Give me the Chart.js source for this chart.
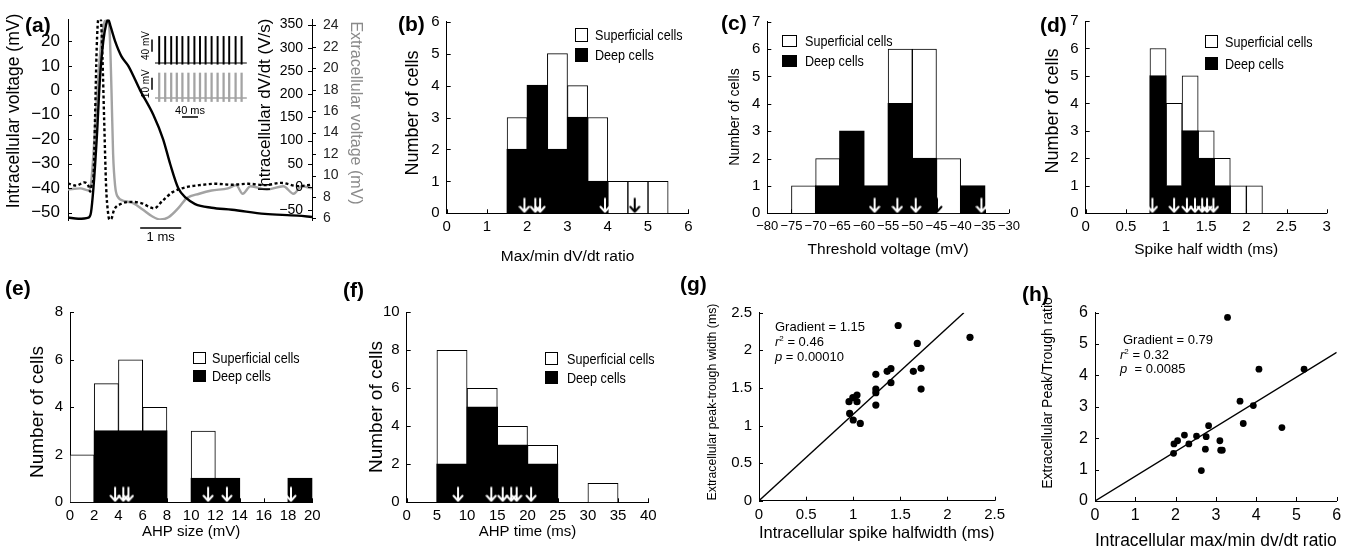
<!DOCTYPE html>
<html>
<head>
<meta charset="utf-8">
<title>Spike shape figure</title>
<script src="https://cdn.jsdelivr.net/npm/chart.js@4.4.1/dist/chart.umd.min.js"></script>
<style>
  body { margin: 0; background: #fff; }
  #fig { position: relative; width: 1349px; height: 550px; overflow: hidden; font-family: 'Liberation Sans', Arial, sans-serif; color: #000; }
  #fig canvas { position: absolute; }
  .lab { position: absolute; font-weight: bold; font-size: 21px; line-height: 23px; }
  .sw { position: absolute; box-sizing: border-box; border: 1px solid #000; }
  .leg { position: absolute; font-size: 14px; line-height: 14px; white-space: nowrap; transform: scaleX(0.9); transform-origin: 0 50%; }
  .ann { position: absolute; font-size: 13px; line-height: 14px; white-space: nowrap; }
  .ann .sup { font-size: 8px; position: relative; top: -5px; }
</style>
</head>
<body>
<div id="fig"></div>
<script>
// ---- (a) spike waveform, time in ms ----
const tIntra = [0, 0.25, 0.5, 0.56, 0.62, 0.7, 0.78, 0.86, 0.93, 0.98, 1.04, 1.15, 1.3, 1.47, 1.76, 2.08, 2.32, 2.49, 2.69, 2.88, 3.1, 3.5, 4.0, 4.8, 5.6, 5.95];
const vIntra = [-52, -52.5, -52, -50, -40, -20, 5, 20, 27, 29, 26, 20, 14, 10, 0, -10, -20, -30, -40, -44, -46.5, -48, -48.8, -50.5, -51.2, -51.8];
const tDvdt = [0, 0.2, 0.4, 0.5, 0.54, 0.58, 0.62, 0.66, 0.7, 0.74, 0.8, 0.84, 0.88, 0.93, 0.97, 1.01, 1.06, 1.12, 1.3, 1.55, 1.8, 2.1, 2.3, 2.55, 2.9, 3.2, 3.6, 4.0, 4.4, 4.8, 5.2, 5.6, 5.95];
const vDvdt = [8, 3, 10, 2, -10, 5, 20, 150, 300, 361, 361, 280, 150, 0, -50, -70, -68, -50, -36, -32, -35, -46, -30, -11, 0, 4, 7, 5, 7, 4, 9, 2, 5];
const tExtra = [0, 0.3, 0.5, 0.56, 0.62, 0.7, 0.8, 0.9, 0.97, 1.02, 1.06, 1.1, 1.15, 1.2, 1.4, 1.6, 1.83, 2.05, 2.25, 2.45, 2.7, 2.9, 3.2, 3.5, 3.9, 4.1, 4.26, 4.45, 4.85, 5.25, 5.5, 5.7, 5.95];
const vExtra = [8.7, 8.8, 8.6, 9.2, 12, 17, 22, 24.4, 24.5, 23, 18, 12, 9, 8.1, 7.6, 7.4, 6.8, 6.2, 5.9, 6.1, 7.0, 7.9, 8.3, 8.6, 8.8, 9.1, 8.3, 9.0, 8.7, 9.0, 8.3, 9.0, 8.8];
const voltTicks = [-50, -40, -30, -20, -10, 0, 10, 20];
const dvdtTicks = [-50, 0, 50, 100, 150, 200, 250, 300, 350];
const extraTicks = [6, 8, 10, 12, 14, 16, 18, 20, 22, 24];
const msBar = [1.76, 2.76];

// inset spike trains (ms)
const spikeTimes = [18, 33, 48, 62, 76, 91, 106, 120, 134, 149, 164, 179, 193, 209, 224];
const trainSpan = [7.5, 237];

// ---- (b) max/min dV/dt ratio ----
const ratioBins = [1.75, 2.25, 2.75, 3.25, 3.75, 4.25, 4.75, 5.25];
const ratioDeep = [2, 4, 2, 3, 1, 0, 0, 0];
const ratioSup = [1, 0, 3, 1, 2, 1, 1, 1];
const ratioArrowsW = [1.93, 2.2, 2.32, 3.93];
const ratioArrowsB = [4.67];
const ratioTicks = [0, 1, 2, 3, 4, 5, 6];

// ---- (c) threshold voltage ----
const thrBins = [-72.5, -67.5, -62.5, -57.5, -52.5, -47.5, -42.5, -37.5];
const thrDeep = [0, 1, 3, 1, 4, 2, 0, 1];
const thrSup = [1, 1, 0, 0, 2, 4, 2, 0];
const thrArrowsW = [-57.8, -53.1, -49.3, -35.7];
const thrArrowsB = [-44.9];
const thrTicks = [-80, -75, -70, -65, -60, -55, -50, -45, -40, -35, -30];

// ---- (d) spike half width ----
const halfBins = [0.9, 1.1, 1.3, 1.5, 1.7, 1.9, 2.1];
const halfDeep = [5, 1, 3, 2, 1, 0, 0];
const halfSup = [1, 3, 2, 1, 1, 1, 1];
const halfArrowsW = [0.83, 1.1, 1.26, 1.36, 1.45, 1.51, 1.59];
const halfTicks = [0, 0.5, 1, 1.5, 2, 2.5, 3];

// ---- (e) AHP size ----
const sizeBins = [1, 3, 5, 7, 9, 11, 13, 15, 17, 19];
const sizeDeep = [0, 3, 3, 3, 0, 1, 1, 0, 0, 1];
const sizeSup = [2, 2, 3, 1, 0, 2, 0, 0, 0, 0];
const sizeArrowsW = [3.72, 4.4, 4.82, 11.4, 12.95, 18.24];
const sizeTicks = [0, 2, 4, 6, 8, 10, 12, 14, 16, 18, 20];

// ---- (f) AHP time ----
const timeBins = [7.5, 12.5, 17.5, 22.5, 27.5, 32.5];
const timeDeep = [2, 5, 3, 2, 0, 0];
const timeSup = [6, 1, 1, 1, 0, 1];
const timeArrowsW = [8.5, 14.0, 15.9, 17.3, 18.2, 20.6];
const timeTicks = [0, 5, 10, 15, 20, 25, 30, 35, 40];

const count6 = [0, 1, 2, 3, 4, 5, 6];
const count7 = [0, 1, 2, 3, 4, 5, 6, 7];
const count8 = [0, 2, 4, 6, 8];
const count10 = [0, 2, 4, 6, 8, 10];

// ---- (g) half width vs peak-trough ----
const gHalf = [0.955, 0.996, 1.04, 1.04, 0.962, 1.0, 1.075, 1.24, 1.24, 1.24, 1.24, 1.36, 1.40, 1.40, 1.477, 1.638, 1.68, 1.72, 1.72, 2.239];
const gPeakTrough = [1.317, 1.37, 1.405, 1.317, 1.161, 1.073, 1.028, 1.68, 1.485, 1.436, 1.272, 1.72, 1.755, 1.569, 2.33, 1.72, 2.092, 1.76, 1.485, 2.172];
const gTicks = [0, 0.5, 1, 1.5, 2, 2.5];
const gGradient = 1.15;

// ---- (h) max/min ratio vs peak/trough ratio ----
const hRatio = [1.95, 1.96, 2.05, 2.22, 2.33, 2.52, 2.76, 2.82, 2.74, 2.64, 3.10, 3.12, 3.16, 3.29, 3.60, 3.68, 3.93, 4.07, 4.64, 5.19];
const hPeakTrough = [1.52, 1.82, 1.92, 2.10, 1.82, 2.07, 2.05, 2.40, 1.65, 0.97, 1.92, 1.62, 1.62, 5.85, 3.18, 2.47, 3.04, 4.20, 2.34, 4.20];
const hTicks = [0, 1, 2, 3, 4, 5, 6];
const hGradient = 0.79;

const FONT = "'Liberation Sans', Arial, Helvetica, sans-serif";
Chart.defaults.font.family = FONT;
Chart.defaults.color = '#000';
Chart.defaults.animation = false;
Chart.defaults.responsive = false;
Chart.defaults.devicePixelRatio = 1;
Chart.defaults.events = [];
Chart.defaults.plugins.legend.display = false;
Chart.defaults.plugins.tooltip.enabled = false;

const fig = document.getElementById('fig');
function makeCanvas(box) {
  const c = document.createElement('canvas');
  c.width = box[2]; c.height = box[3];
  c.style.left = box[0] + 'px'; c.style.top = box[1] + 'px';
  c.style.width = box[2] + 'px'; c.style.height = box[3] + 'px';
  fig.appendChild(c);
  return c;
}
const minus = v => String(v).replace('-', '\u2212');
const pairs = (xs, ys) => xs.map((x, i) => ({x, y: ys[i]}));
const tickList = arr => s => { s.ticks = arr.map(v => ({value: v})); };

function arrowImg(color) {
  const c = document.createElement('canvas');
  c.width = 12; c.height = 16;
  const g = c.getContext('2d');
  g.strokeStyle = color; g.lineWidth = 2; g.lineCap = 'round'; g.lineJoin = 'round';
  g.beginPath();
  g.moveTo(6, 1.5); g.lineTo(6, 14);
  g.moveTo(1.5, 9.5); g.lineTo(6, 14.5); g.lineTo(10.5, 9.5);
  g.stroke();
  return c;
}
const whiteArrow = arrowImg('#fff');
const blackArrow = arrowImg('#000');

// small inward ticks, matlab style
const inTicks = {
  id: 'inTicks',
  beforeDatasetsDraw(chart) {
    const {ctx, chartArea: a} = chart;
    ctx.save();
    ctx.strokeStyle = '#000'; ctx.lineWidth = 1;
    ctx.beginPath();
    ['x', 'y'].forEach(id => {
      const s = chart.scales[id];
      if (!s) return;
      s.ticks.forEach(t => {
        const p = Math.round(s.getPixelForValue(t.value)) + 0.5;
        if (s.isHorizontal()) { ctx.moveTo(p, a.bottom); ctx.lineTo(p, a.bottom - 4); }
        else { ctx.moveTo(a.left, p); ctx.lineTo(a.left + 4, p); }
      });
    });
    ctx.stroke();
    ctx.restore();
  }
};

// rotated axis titles placed where the figure has them
const sideTitles = {
  id: 'sideTitles',
  afterDraw(chart, args, opts) {
    const {ctx} = chart;
    (opts.items || []).forEach(t => {
      ctx.save();
      ctx.translate(t.x, t.y);
      ctx.rotate(t.rot === undefined ? -Math.PI / 2 : t.rot);
      ctx.font = t.size + 'px ' + FONT;
      ctx.fillStyle = t.color || '#000';
      ctx.textAlign = 'center'; ctx.textBaseline = 'middle';
      ctx.fillText(t.text, 0, 0);
      ctx.restore();
    });
  }
};

function axes(box, plot, sp) {
  const [bx, by, bw, bh] = box, [L, T, R, B] = plot;
  const xf = sp.xTitleSize;
  const base = () => ({
    type: 'linear', bounds: 'data', offset: false, stacked: !!sp.stacked,
    grid: {display: false, drawTicks: false, offset: false},
    border: {display: true, color: '#000', width: 1}
  });
  const x = Object.assign(base(), {
    min: sp.xTicks[0], max: sp.xTicks[sp.xTicks.length - 1],
    afterBuildTicks: tickList(sp.xTicks),
    afterFit: s => { s.height = by + bh - B; },
    ticks: {autoSkip: false, maxRotation: 0, minRotation: 0, padding: 5, font: {size: sp.xTickSize}, callback: minus},
    title: {display: true, text: sp.xTitle, font: {size: xf}, padding: {top: 0, bottom: by + bh - sp.xTitleY - xf * 0.6}}
  });
  const y = Object.assign(base(), {
    min: sp.yTicks[0], max: sp.yTicks[sp.yTicks.length - 1],
    afterBuildTicks: tickList(sp.yTicks),
    afterFit: s => { s.width = L - bx; },
    ticks: {autoSkip: false, padding: 7, font: {size: sp.yTickSize}, callback: minus}
  });
  return {
    layout: {autoPadding: false, padding: {left: 0, top: T - by, right: bx + bw - R, bottom: 0}},
    scales: {x, y},
    plugins: {sideTitles: {items: [{text: sp.yTitle, size: sp.yTitleSize, x: sp.yTitleAt[0] - bx, y: sp.yTitleAt[1] - by}]}}
  };
}

function histogram(box, plot, sp) {
  const yTop = sp.yTicks[sp.yTicks.length - 1];
  const yArrow = yTop * 8 / (plot[3] - plot[1]);
  const nul = v => (v === 0 ? null : v);
  const opts = axes(box, plot, Object.assign({stacked: true}, sp));
  opts.datasets = {bar: {barPercentage: 1, categoryPercentage: 1}};
  new Chart(makeCanvas(box), {
    type: 'bar',
    data: {datasets: [
      {type: 'scatter', stack: 'aw', order: 0, data: sp.arrowsW.map(x => ({x, y: yArrow})), pointStyle: whiteArrow, pointRadius: 6},
      {type: 'scatter', stack: 'ab', order: 0, data: (sp.arrowsB || []).map(x => ({x, y: yArrow})), pointStyle: blackArrow, pointRadius: 6},
      {label: 'Deep cells', order: 1, data: sp.bins.map((x, i) => ({x, y: nul(sp.deep[i])})),
        backgroundColor: '#000', borderColor: '#000', borderWidth: 1, inflateAmount: 0.7},
      {label: 'Superficial cells', order: 2, data: sp.bins.map((x, i) => ({x, y: nul(sp.sup[i])})),
        backgroundColor: '#fff', borderColor: '#000', borderWidth: 1}
    ]},
    options: opts,
    plugins: [inTicks, sideTitles]
  });
}

function scatter(box, plot, sp) {
  const xMax = sp.xTicks[sp.xTicks.length - 1], yMax = sp.yTicks[sp.yTicks.length - 1];
  const xEnd = Math.min(xMax, yMax / sp.gradient);
  new Chart(makeCanvas(box), {
    type: 'scatter',
    data: {datasets: [
      {data: pairs(sp.xs, sp.ys), backgroundColor: '#000', borderWidth: 0, pointRadius: sp.r},
      {type: 'line', data: [{x: 0, y: 0}, {x: xEnd, y: xEnd * sp.gradient}], borderColor: '#000', borderWidth: 1.4, pointRadius: 0}
    ]},
    options: axes(box, plot, sp),
    plugins: [inTicks, sideTitles]
  });
}

// ---- panel (a) ----
const spikeExtras = {
  id: 'spikeExtras',
  afterDatasetsDraw(chart) {
    const {ctx, chartArea: a, scales} = chart;
    const seg = (x1, y1, x2, y2) => { ctx.moveTo(x1, y1); ctx.lineTo(x2, y2); };
    ctx.save();
    ctx.strokeStyle = '#000'; ctx.lineWidth = 1;
    ctx.beginPath();
    voltTicks.forEach(v => { const y = Math.round(scales.yV.getPixelForValue(v)) + 0.5; seg(a.left, y, a.left + 4, y); });
    dvdtTicks.forEach(v => { const y = Math.round(scales.yD.getPixelForValue(v)) + 0.5; seg(a.right - 4, y, a.right, y); });
    extraTicks.forEach(v => { const y = Math.round(scales.yE.getPixelForValue(v)) + 0.5; seg(a.right, y, a.right + 4, y); });
    ctx.stroke();
    // dV/dt labels sit inside the plot
    ctx.fillStyle = '#000';
    ctx.font = '14px ' + FONT;
    ctx.textAlign = 'right'; ctx.textBaseline = 'middle';
    dvdtTicks.forEach(v => ctx.fillText(minus(v), a.right - 9, scales.yD.getPixelForValue(v)));
    // 1 ms scale bar
    const x1 = scales.x.getPixelForValue(msBar[0]), x2 = scales.x.getPixelForValue(msBar[1]);
    ctx.lineWidth = 1.5;
    ctx.beginPath(); seg(x1, a.bottom + 8, x2, a.bottom + 8); ctx.stroke();
    ctx.textAlign = 'center';
    ctx.font = '13px ' + FONT;
    ctx.fillText('1 ms', (x1 + x2) / 2, a.bottom + 17);
    ctx.restore();
  }
};

new Chart(makeCanvas([0, 0, 375, 250]), {
  type: 'line',
  data: {datasets: [
    {data: pairs(tIntra, vIntra), yAxisID: 'yV', borderColor: '#000', borderWidth: 2.4, order: 0},
    {data: pairs(tDvdt, vDvdt), yAxisID: 'yD', borderColor: '#000', borderWidth: 2.4, borderDash: [3, 2.5], order: 1},
    {data: pairs(tExtra, vExtra), yAxisID: 'yE', borderColor: '#a3a3a3', borderWidth: 2.4, order: 2}
  ]},
  options: {
    layout: {autoPadding: false, padding: {left: 0, top: 18, right: 0, bottom: 30}},
    elements: {point: {radius: 0}, line: {cubicInterpolationMode: 'monotone'}},
    scales: {
      x: {type: 'linear', min: 0, max: 5.95, display: false},
      yV: {
        type: 'linear', position: 'left', min: -53, max: 29, bounds: 'data',
        grid: {display: false, drawTicks: false}, border: {display: true, color: '#000'},
        afterBuildTicks: tickList(voltTicks),
        afterFit: s => { s.width = 68; },
        ticks: {padding: 8, font: {size: 17}, callback: minus}
      },
      yD: {type: 'linear', position: 'right', min: -71, max: 361, display: false},
      yE: {
        type: 'linear', position: 'right', min: 5.85, max: 24.56, bounds: 'data',
        grid: {display: false, drawTicks: false}, border: {display: true, color: '#000'},
        afterBuildTicks: tickList(extraTicks),
        afterFit: s => { s.width = 63; },
        ticks: {padding: 11, font: {size: 14}, color: '#222', callback: minus}
      }
    },
    plugins: {sideTitles: {items: [
      {text: 'Intracellular voltage (mV)', size: 17.5, x: 14, y: 111},
      {text: 'Intracellular dV/dt (V/s)', size: 17, x: 265, y: 105},
      {text: 'Extracellular voltage (mV)', size: 16, x: 355, y: 113, rot: Math.PI / 2, color: '#8a8a8a'}
    ]}}
  },
  plugins: [spikeExtras, sideTitles]
});

// inset traces: black intracellular, grey extracellular
const insetBars = {
  id: 'insetBars',
  afterDatasetsDraw(chart) {
    const {ctx, scales: {x, yK, yG}} = chart;
    const x0 = x.getPixelForValue(0);
    const k1 = yK.getPixelForValue(-15), k2 = yK.getPixelForValue(25);
    const g1 = yG.getPixelForValue(7), g2 = yG.getPixelForValue(17);
    const m1 = x.getPixelForValue(75), m2 = x.getPixelForValue(115), my = yG.getPixelForValue(-16);
    ctx.save();
    ctx.strokeStyle = '#000'; ctx.lineWidth = 1.5;
    ctx.beginPath();
    ctx.moveTo(x0, k1); ctx.lineTo(x0, k2);
    ctx.moveTo(x0, g1); ctx.lineTo(x0, g2);
    ctx.moveTo(m1, my); ctx.lineTo(m2, my);
    ctx.stroke();
    ctx.fillStyle = '#000';
    ctx.font = '10px ' + FONT;
    ctx.textAlign = 'center'; ctx.textBaseline = 'middle';
    [['40 mV', (k1 + k2) / 2], ['10 mV', (g1 + g2) / 2]].forEach(([txt, yc]) => {
      ctx.save(); ctx.translate(x0 - 6, yc); ctx.rotate(-Math.PI / 2); ctx.fillText(txt, 0, 0); ctx.restore();
    });
    ctx.font = '11px ' + FONT;
    ctx.fillText('40 ms', (m1 + m2) / 2, my - 6);
    ctx.restore();
  }
};

new Chart(makeCanvas([135, 0, 120, 140]), {
  type: 'bar',
  data: {datasets: [
    {type: 'line', yAxisID: 'yK', data: trainSpan.map(x => ({x, y: -52})), borderColor: '#000', borderWidth: 1.2, pointRadius: 0},
    {yAxisID: 'yK', data: spikeTimes.map(x => ({x, y: [-56, 35]})), backgroundColor: '#000', barThickness: 1.3, grouped: false},
    {type: 'line', yAxisID: 'yG', data: trainSpan.map(x => ({x, y: 0})), borderColor: '#a3a3a3', borderWidth: 1.6, pointRadius: 0},
    {yAxisID: 'yG', data: spikeTimes.map(x => ({x, y: [-3, 21]})), backgroundColor: '#a3a3a3', barThickness: 1.6, grouped: false}
  ]},
  options: {
    layout: {autoPadding: false, padding: {left: 17, top: 0, right: 7, bottom: 0}},
    scales: {
      x: {type: 'linear', min: 0, max: 240, display: false, offset: false},
      yK: {type: 'linear', min: -303.6, max: 153.9, bounds: 'data', beginAtZero: false, display: false},
      yG: {type: 'linear', min: -35.3, max: 82.35, bounds: 'data', beginAtZero: false, display: false}
    }
  },
  plugins: [insetBars]
});

// ---- histograms ----
histogram([378, 0, 322, 270], [446.7, 21.7, 688.3, 213.3], {
  bins: ratioBins, deep: ratioDeep, sup: ratioSup, arrowsW: ratioArrowsW, arrowsB: ratioArrowsB,
  xTicks: ratioTicks, yTicks: count6, xTickSize: 15, yTickSize: 15,
  xTitle: 'Max/min dV/dt ratio', xTitleSize: 15.5, xTitleY: 257,
  yTitle: 'Number of cells', yTitleSize: 18, yTitleAt: [413, 113]
});
histogram([700, 0, 325, 270], [767.3, 21.7, 1009.3, 213.3], {
  bins: thrBins, deep: thrDeep, sup: thrSup, arrowsW: thrArrowsW, arrowsB: thrArrowsB,
  xTicks: thrTicks, yTicks: count7, xTickSize: 13, yTickSize: 15,
  xTitle: 'Threshold voltage (mV)', xTitleSize: 15.5, xTitleY: 250,
  yTitle: 'Number of cells', yTitleSize: 14, yTitleAt: [735, 117]
});
histogram([1020, 0, 329, 270], [1085.7, 21, 1326.7, 213.3], {
  bins: halfBins, deep: halfDeep, sup: halfSup, arrowsW: halfArrowsW,
  xTicks: halfTicks, yTicks: count7, xTickSize: 15, yTickSize: 15,
  xTitle: 'Spike half width (ms)', xTitleSize: 15.5, xTitleY: 250,
  yTitle: 'Number of cells', yTitleSize: 18, yTitleAt: [1053, 111]
});
histogram([0, 270, 330, 280], [70, 312.3, 312.3, 502.3], {
  bins: sizeBins, deep: sizeDeep, sup: sizeSup, arrowsW: sizeArrowsW,
  xTicks: sizeTicks, yTicks: count8, xTickSize: 15, yTickSize: 15,
  xTitle: 'AHP size (mV)', xTitleSize: 15, xTitleY: 532,
  yTitle: 'Number of cells', yTitleSize: 19, yTitleAt: [38, 412]
});
histogram([340, 270, 330, 280], [406.7, 312.3, 648.3, 502.3], {
  bins: timeBins, deep: timeDeep, sup: timeSup, arrowsW: timeArrowsW,
  xTicks: timeTicks, yTicks: count10, xTickSize: 15, yTickSize: 15,
  xTitle: 'AHP time (ms)', xTitleSize: 15, xTitleY: 532,
  yTitle: 'Number of cells', yTitleSize: 19, yTitleAt: [376.7, 407]
});

// ---- scatter panels ----
scatter([680, 270, 330, 280], [759, 312.7, 1001.7, 500.7], {
  xs: gHalf, ys: gPeakTrough, gradient: gGradient, r: 3.6,
  xTicks: gTicks, yTicks: gTicks, xTickSize: 15, yTickSize: 15,
  xTitle: 'Intracellular spike halfwidth (ms)', xTitleSize: 16.5, xTitleY: 533,
  yTitle: 'Extracellular peak-trough width (ms)', yTitleSize: 12.3, yTitleAt: [713, 402]
});
scatter([1010, 270, 339, 280], [1095, 312.7, 1336.7, 501], {
  xs: hRatio, ys: hPeakTrough, gradient: hGradient, r: 3.4,
  xTicks: hTicks, yTicks: hTicks, xTickSize: 16, yTickSize: 16,
  xTitle: 'Intracellular max/min dv/dt ratio', xTitleSize: 17.5, xTitleY: 541,
  yTitle: 'Extracellular Peak/Trough ratio', yTitleSize: 14, yTitleAt: [1048, 393]
});

// ---- text overlays: panel letters, legends, fit statistics ----
function put(cls, html, left, top, css) {
  const d = document.createElement('div');
  d.className = cls; d.innerHTML = html;
  d.style.left = left + 'px'; d.style.top = top + 'px';
  if (css) d.style.cssText += css;
  fig.appendChild(d);
  return d;
}
function legend(x, yWhite, yBlack, w, h, textX) {
  put('sw', '', x, yWhite, `width:${w}px;height:${h}px;background:#fff;`);
  put('sw', '', x, yBlack, `width:${w}px;height:${h}px;background:#000;`);
  put('leg', 'Superficial cells', textX, yWhite + h / 2 - 7);
  put('leg', 'Deep cells', textX, yBlack + h / 2 - 7);
}
[['(a)', 25, 24], ['(b)', 398, 23], ['(c)', 721, 22], ['(d)', 1040, 24],
 ['(e)', 5, 287], ['(f)', 343, 289], ['(g)', 680, 283], ['(h)', 1022, 293]]
  .forEach(([t, x, yc]) => put('lab', t, x, yc - 11.5));

legend(575, 28, 48, 13, 14, 595);
legend(782, 35, 55, 15, 12, 805);
legend(1205, 35, 57, 13, 13, 1225);
legend(193, 352, 370, 13, 12, 212);
legend(545, 352, 371, 13, 13, 567);

put('ann', 'Gradient = 1.15', 775, 327 - 7);
put('ann', '<i>r</i><span class="sup">2</span> = 0.46', 775, 342 - 7);
put('ann', '<i>p</i> = 0.00010', 775, 357 - 7);
put('ann', 'Gradient = 0.79', 1123, 340 - 7);
put('ann', '<i>r</i><span class="sup">2</span> = 0.32', 1120, 355 - 7);
put('ann', '<i>p</i>&nbsp; = 0.0085', 1120, 369 - 7);
</script>
</body>
</html>
